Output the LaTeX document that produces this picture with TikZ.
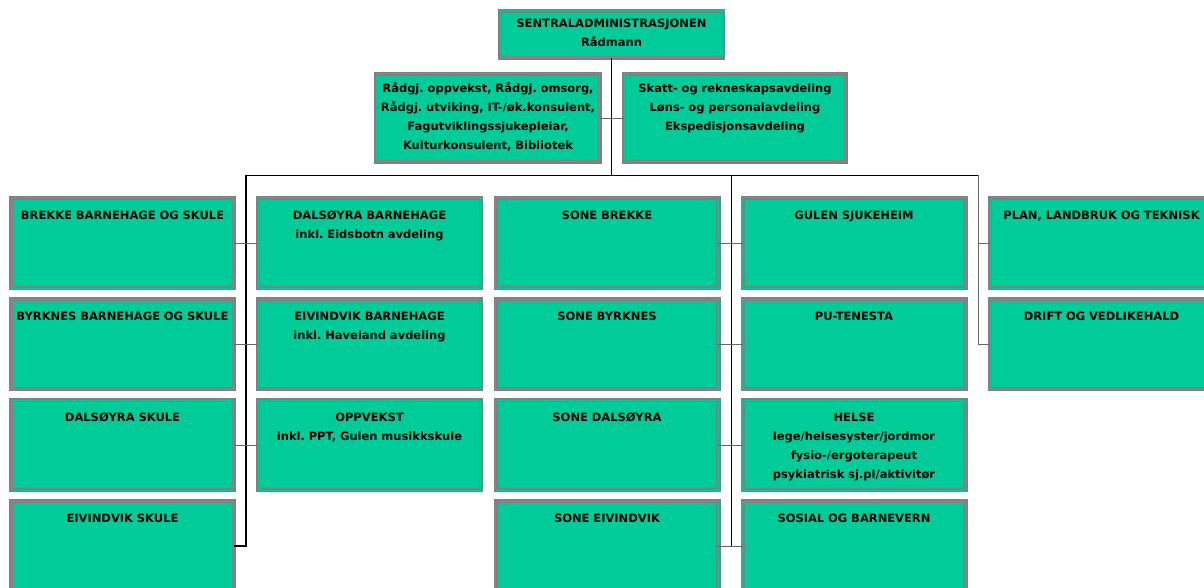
\documentclass[tikz,border=0pt]{standalone}
\usepackage{fontspec}
\setmainfont{DejaVu Sans}
\usetikzlibrary{positioning}
\definecolor{boxteal}{RGB}{0,204,153}
\definecolor{framegray}{RGB}{128,128,128}
\frenchspacing

\begin{document}
\begin{tikzpicture}[x=1pt, y=-1pt,
  every node/.style={font=\bfseries\fontsize{11.5}{19}\selectfont},
  unit/.style={draw=framegray, double=boxteal, fill=boxteal, line width=1.7pt, double distance=1pt,
    inner sep=0pt, outer sep=0pt, align=center, text width=222.6pt, text height=21pt, text depth=69pt},
  link/.style={draw=black, line width=0.8pt},
  stub/.style={draw=black!60, line width=0.8pt}]
  \useasboundingbox (0,0) rectangle (1204,588);
  \clip (0,0) rectangle (1204,588);

  % top of the chart
  \node[unit, text height=17pt, text depth=30pt] (sa) at (611.5,34.5) {SENTRALADMINISTRASJONEN\\Rådmann};
  \node[unit, text width=223.6pt, text height=19pt] (radg) at (488,118)
    {Rådgj. oppvekst, Rådgj. omsorg,\\Rådgj. utviking, IT-/øk.konsulent,\\Fagutviklingssjukepleiar,\\Kulturkonsulent, Bibliotek};
  \node[unit, text width=221.6pt, text height=19pt] (skatt) at (735,118)
    {Skatt- og rekneskapsavdeling\\Løns- og personalavdeling\\Ekspedisjonsavdeling};

  % column 1 and 2
  \node[unit] (bbs) at (122.5,243) {BREKKE BARNEHAGE OG SKULE};
  \node[unit] (byb) at (122.5,344) {BYRKNES BARNEHAGE OG SKULE};
  \node[unit] (ds) at (122.5,445) {DALSØYRA SKULE};
  \node[unit] (es) at (122.5,546) {EIVINDVIK SKULE};
  \node[unit] (dbh) at (369.5,243) {DALSØYRA BARNEHAGE\\inkl. Eidsbotn avdeling};
  \node[unit] (ebh) at (369.5,344) {EIVINDVIK BARNEHAGE\\inkl. Haveland avdeling};
  \node[unit] (opp) at (369.5,445) {OPPVEKST\\inkl. PPT, Gulen musikkskule};

  % column 3 and 4
  \node[unit] (sbr) at (607,243) {SONE BREKKE};
  \node[unit] (sby) at (607,344) {SONE BYRKNES};
  \node[unit] (sda) at (607,445) {SONE DALSØYRA};
  \node[unit] (sei) at (607,546) {SONE EIVINDVIK};
  \node[unit] (gsj) at (854,243) {GULEN SJUKEHEIM};
  \node[unit] (pu) at (854,344) {PU-TENESTA};
  \node[unit] (hel) at (854,445) {HELSE\\lege/helsesyster/jordmor\\fysio-/ergoterapeut\\psykiatrisk sj.pl/aktivitør};
  \node[unit] (sob) at (854,546) {SOSIAL OG BARNEVERN};

  % column 5
  \node[unit] (plan) at (1101.5,243) {PLAN, LANDBRUK OG TEKNISK};
  \node[unit] (drift) at (1101.5,344) {DRIFT OG VEDLIKEHALD};

  % lines
  \coordinate (busL) at (246,175);
  \coordinate (busM) at (731,175);
  \coordinate (busR) at (978,175);
  \draw[link] (sa.south) -- (sa.south |- busL);
  \draw[stub] (radg.east) -- (skatt.west);
  \draw[link] (busL) -- (busR);
  \draw[link, line width=1.4pt] (busL) |- (es.east);
  \draw[stub] (bbs.east) -- (dbh.west);
  \draw[stub] (byb.east) -- (ebh.west);
  \draw[stub] (ds.east) -- (opp.west);
  \draw[link] (busM) -- (busM |- sob.west);
  \draw[stub] (sbr.east) -- (gsj.west);
  \draw[stub] (sby.east) -- (pu.west);
  \draw[stub] (sda.east) -- (hel.west);
  \draw[stub] (sei.east) -- (sob.west);
  \draw[link, draw=black!60] (busR) |- (drift.west);
  \draw[stub] (busR |- plan.west) -- (plan.west);
\end{tikzpicture}
\end{document}
